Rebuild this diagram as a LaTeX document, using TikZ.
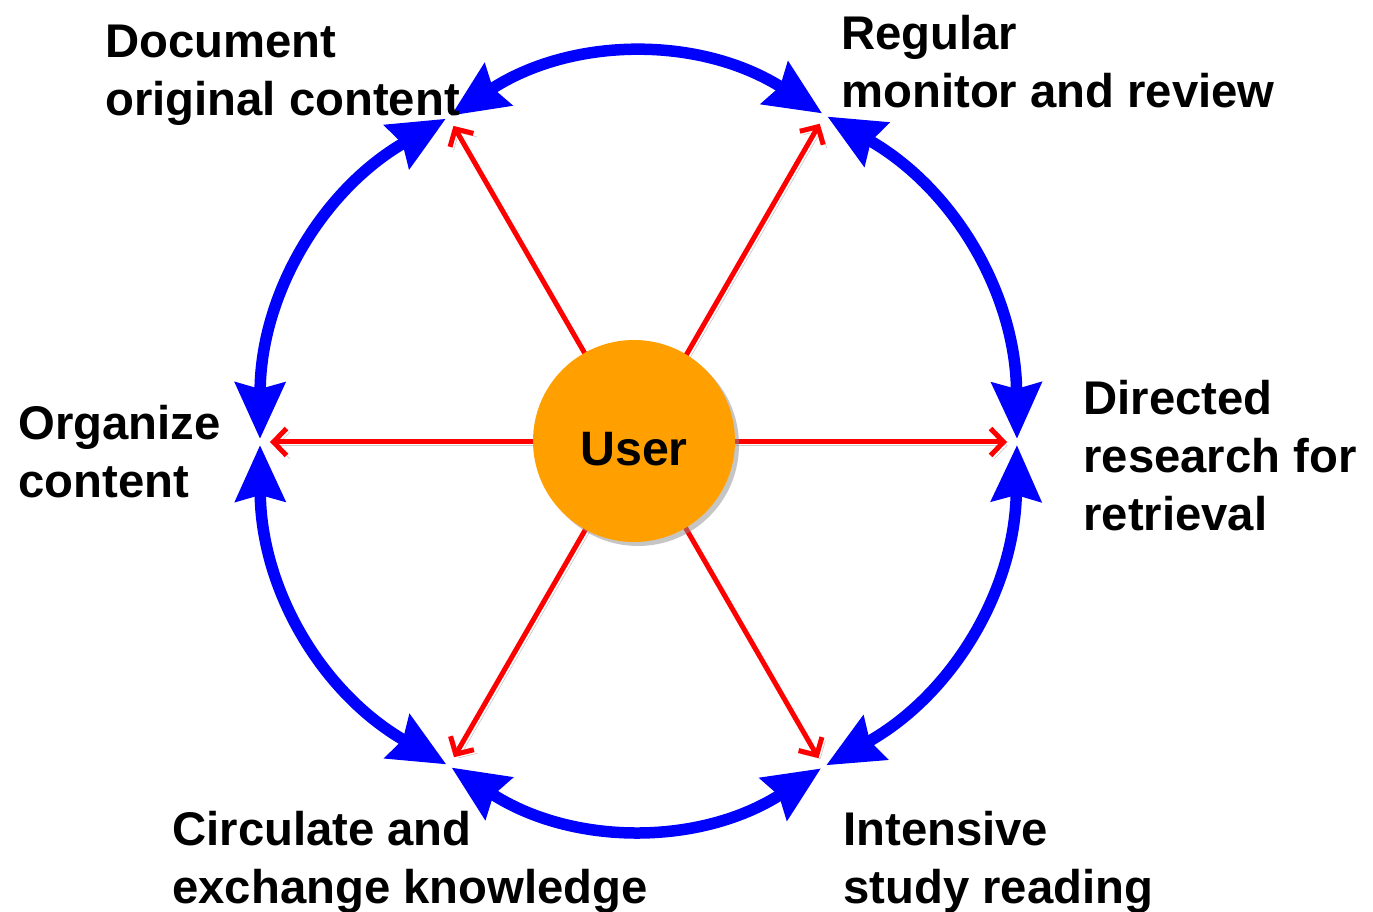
\documentclass[tikz,border=0pt]{standalone}
\usepackage{fontspec}
\setmainfont{Liberation Sans}
\usepackage{tikz}
\usetikzlibrary{arrows.meta,shadows}
\definecolor{cycleblue}{RGB}{0,0,255}
\definecolor{spokered}{RGB}{255,0,0}
\definecolor{userorange}{RGB}{255,160,0}
\definecolor{shadowgray}{RGB}{140,140,140}

\begin{document}
\begin{tikzpicture}
    \tikzstyle{user} = [circle, minimum size=4.04cm, inner sep=0pt, fill=userorange, text height=1.0cm, text depth=0pt, font=\fontsize{27.5}{33}\selectfont\bfseries, drop shadow={shadow xshift=0.08cm, shadow yshift=-0.08cm, fill=shadowgray, opacity=0.5}]
    \tikzstyle{stage} = [anchor=north west, inner sep=0pt, align=left, font=\fontsize{26.9}{32.9}\selectfont\bfseries]
    \tikzstyle{spoke} = [draw=spokered, line width=0.1cm, -{Straight Barb[length=0.26cm,width=0.54cm]}, shorten >=0.2cm, preaction={draw=shadowgray, opacity=0.45, transform canvas={shift={(0.07,-0.07)}}}]
    \tikzstyle{cyclearc} = [draw=cycleblue, line width=0.23cm, {Stealth[length=1.12cm,width=0.98cm,inset=0.12cm]}-{Stealth[length=1.12cm,width=0.98cm,inset=0.12cm]}, shorten >=0.06cm, shorten <=0.06cm, preaction={draw=shadowgray, opacity=0.45, transform canvas={shift={(0.08,-0.08)}}}]

    \useasboundingbox (-12.72,-9.38) rectangle (14.74,8.84);

    % Meeting points round the cycle
    \coordinate (doc) at (120:7.5);
    \coordinate (review) at (60:7.55);
    \coordinate (retrieval) at (0:7.62);
    \coordinate (reading) at (-60:7.5);
    \coordinate (circulate) at (-120:7.48);
    \coordinate (organize) at (180:7.52);

    % Spokes from the user
    \draw [spoke] (0,0) -- (doc);
    \draw [spoke] (0,0) -- (review);
    \draw [spoke] (0,0) -- (retrieval);
    \draw [spoke] (0,0) -- (reading);
    \draw [spoke] (0,0) -- (circulate);
    \draw [spoke] (0,0) -- (organize);

    % User in the middle
    \node [user] (user) at (-0.04,0.02) {User};

    % Outer cycle
    \draw [cyclearc] (retrieval) to[bend right=30] (review);
    \draw [cyclearc] (review) to[bend right=33] (doc);
    \draw [cyclearc] (doc) to[bend right=30] (organize);
    \draw [cyclearc] (organize) to[bend right=30] (circulate);
    \draw [cyclearc] (circulate) to[bend right=33] (reading);
    \draw [cyclearc] (reading) to[bend right=30] (retrieval);

    % Stage labels
    \node [stage] (doclabel) at (-10.62,8.34) {Document\\original content};
    \node [stage] (reviewlabel) at (4.10,8.54) {Regular\\monitor and review};
    \node [stage] (organizelabel) at (-12.36,0.74) {Organize\\content};
    \node [stage] (retrievallabel) at (8.94,1.24) {Directed\\research for\\retrieval};
    \node [stage] (circulatelabel) at (-9.28,-7.38) {Circulate and\\exchange knowledge};
    \node [stage] (readinglabel) at (4.14,-7.38) {Intensive\\study reading};
\end{tikzpicture}
\end{document}
